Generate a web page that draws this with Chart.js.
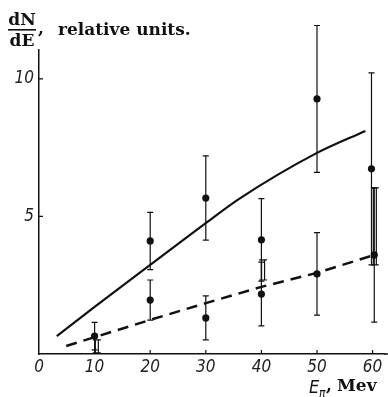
<!DOCTYPE html>
<html>
<head>
<meta charset="utf-8">
<script src="https://cdn.jsdelivr.net/npm/chart.js@4.4.1/dist/chart.umd.min.js"></script>
<style>
	html, body { margin: 0; padding: 0; background: #fff; }
	#wrap { width: 388px; height: 397px; position: relative; }
</style>
</head>
<body>
<div id="wrap"><canvas id="chart"></canvas></div>
<script>
// measured points (upper set, with errors)
const upperE = [20, 30, 40, 50, 59.8]
const upperN = [4.11, 5.67, 4.15, 9.27, 6.73]
const upperErr = [1.04, 1.53, 1.5, 2.67, 3.49]

// measured points (lower set, with errors)
const lowerE = [10, 20, 30, 40, 50, 60.3]
const lowerN = [0.65, 1.96, 1.31, 2.18, 2.91, 3.6]
const lowerErr = [0.5, 0.73, 0.8, 1.16, 1.5, 2.44]

// double-line range bars
const rangeE = [10.4, 40.3, 60.4]
const rangeLow = [0.04, 2.69, 3.24]
const rangeHigh = [0.51, 3.42, 6.04]

// solid curve
const solidE = [3.2, 10, 20, 30, 36, 50, 58.7]
const solidN = [0.65, 1.71, 3.24, 4.76, 5.64, 7.31, 8.11]

// dashed curve
const dashedE = [4.9, 20, 30, 40, 50, 60.3]
const dashedN = [0.29, 1.24, 1.85, 2.44, 2.95, 3.6]

const xTicks = [0, 10, 20, 30, 40, 50, 60]
const yTicks = [5, 10]

const tickFont = { family: "'Liberation Sans Narrow', 'DejaVu Sans Condensed', sans-serif", size: 17, style: 'italic' }

function pts(xs, ys) {
	return xs.map((x, i) => ({ x: x, y: ys[i] }))
}

const extras = {
	id: 'extras',
	beforeDatasetsDraw(chart) {
		const ctx = chart.ctx
		const sx = chart.scales.x, sy = chart.scales.y
		ctx.save()
		ctx.strokeStyle = '#111'
		ctx.lineWidth = 1.2
		function errBar(x, lo, hi) {
			let px = sx.getPixelForValue(x)
			let y1 = sy.getPixelForValue(lo), y2 = sy.getPixelForValue(hi)
			ctx.beginPath()
			ctx.moveTo(px, y1); ctx.lineTo(px, y2)
			ctx.moveTo(px - 3, y1); ctx.lineTo(px + 3, y1)
			ctx.moveTo(px - 3, y2); ctx.lineTo(px + 3, y2)
			ctx.stroke()
		}
		upperE.forEach((e, i) => errBar(e, upperN[i] - upperErr[i], upperN[i] + upperErr[i]))
		lowerE.forEach((e, i) => errBar(e, lowerN[i] - lowerErr[i], lowerN[i] + lowerErr[i]))
		rangeE.forEach((e, i) => {
			let px = sx.getPixelForValue(e)
			let y1 = sy.getPixelForValue(rangeLow[i]), y2 = sy.getPixelForValue(rangeHigh[i])
			ctx.beginPath()
			ctx.moveTo(px - 1.5, y1); ctx.lineTo(px - 1.5, y2)
			ctx.moveTo(px + 1.5, y1); ctx.lineTo(px + 1.5, y2)
			ctx.moveTo(px - 4, y1); ctx.lineTo(px + 4, y1)
			ctx.moveTo(px - 4, y2); ctx.lineTo(px + 4, y2)
			ctx.stroke()
		})
		ctx.restore()
	},
	afterDraw(chart) {
		const ctx = chart.ctx
		const sx = chart.scales.x, sy = chart.scales.y
		const a = chart.chartArea
		ctx.save()
		// inward tick marks, and axis line run to the right edge
		ctx.strokeStyle = '#111'
		ctx.lineWidth = 1.2
		ctx.beginPath()
		yTicks.forEach(v => {
			let py = sy.getPixelForValue(v)
			ctx.moveTo(a.left, py); ctx.lineTo(a.left + 4, py)
		})
		xTicks.slice(1).forEach(v => {
			let px = sx.getPixelForValue(v)
			ctx.moveTo(px, a.bottom); ctx.lineTo(px, a.bottom - 4)
		})
		ctx.stroke()
		ctx.lineWidth = 1.5
		ctx.beginPath()
		ctx.moveTo(a.right, a.bottom); ctx.lineTo(chart.width, a.bottom)
		ctx.stroke()

		// y title: dN/dE, relative units.
		ctx.fillStyle = '#111'
		ctx.font = "bold 17px 'DejaVu Serif', serif"
		ctx.textBaseline = 'alphabetic'
		ctx.textAlign = 'center'
		ctx.fillText('dN', 22, 25)
		ctx.fillText('dE', 22, 46)
		ctx.fillRect(8, 29, 28, 1.6)
		ctx.textAlign = 'left'
		ctx.fillText(',', 38, 34)
		ctx.fillText('relative units.', 58, 35)

		// x title: E_π, Mev
		ctx.font = "italic 18px 'Liberation Sans Narrow', 'DejaVu Sans Condensed', sans-serif"
		ctx.fillText('E', 309, 393)
		ctx.font = "italic 12px 'Liberation Sans Narrow', 'DejaVu Sans Condensed', sans-serif"
		ctx.fillText('π', 319, 397)
		ctx.font = "bold 17px 'DejaVu Serif', serif"
		ctx.fillText(',', 326, 391)
		ctx.fillText('Mev', 337, 391)
		ctx.restore()
	}
}

const config = {
	type: 'scatter',
	data: {
		datasets: [{
			label: 'solid',
			data: pts(solidE, solidN),
			showLine: true,
			borderColor: '#111',
			borderWidth: 2.2,
			pointRadius: 0,
			tension: 0.4,
			cubicInterpolationMode: 'monotone'
		}, {
			label: 'dashed',
			data: pts(dashedE, dashedN),
			showLine: true,
			borderColor: '#111',
			borderWidth: 2.5,
			borderDash: [11, 7],
			pointRadius: 0
		}, {
			label: 'upper',
			data: pts(upperE, upperN),
			pointRadius: 3.6,
			backgroundColor: '#111',
			borderColor: '#111',
			borderWidth: 0
		}, {
			label: 'lower',
			data: pts(lowerE, lowerN),
			pointRadius: 3.6,
			backgroundColor: '#111',
			borderColor: '#111',
			borderWidth: 0
		}]
	},
	options: {
		responsive: true,
		maintainAspectRatio: false,
		animation: false,
		devicePixelRatio: 1,
		layout: { padding: { top: 50, right: 0, left: 0, bottom: 0 } },
		plugins: {
			legend: { display: false },
			tooltip: { enabled: false }
		},
		scales: {
			x: {
				type: 'linear',
				min: 0,
				max: 62.05,
				afterFit: s => { s.height = 43 },
				afterBuildTicks: s => { s.ticks = xTicks.map(v => ({ value: v })) },
				grid: { display: false, drawTicks: false },
				border: { display: true, color: '#111', width: 1.5 },
				ticks: { color: '#222', font: tickFont, padding: 3, maxRotation: 0, autoSkip: false }
			},
			y: {
				type: 'linear',
				min: 0,
				max: 11.05,
				afterFit: s => { s.width = 39 },
				afterBuildTicks: s => { s.ticks = yTicks.map(v => ({ value: v })) },
				grid: { display: false, drawTicks: false },
				border: { display: true, color: '#111', width: 1.5 },
				ticks: { color: '#222', font: tickFont, padding: 5 }
			}
		}
	},
	plugins: [extras]
}

let ctx = document.getElementById('chart').getContext('2d')
new Chart(ctx, config)
</script>
</body>
</html>
